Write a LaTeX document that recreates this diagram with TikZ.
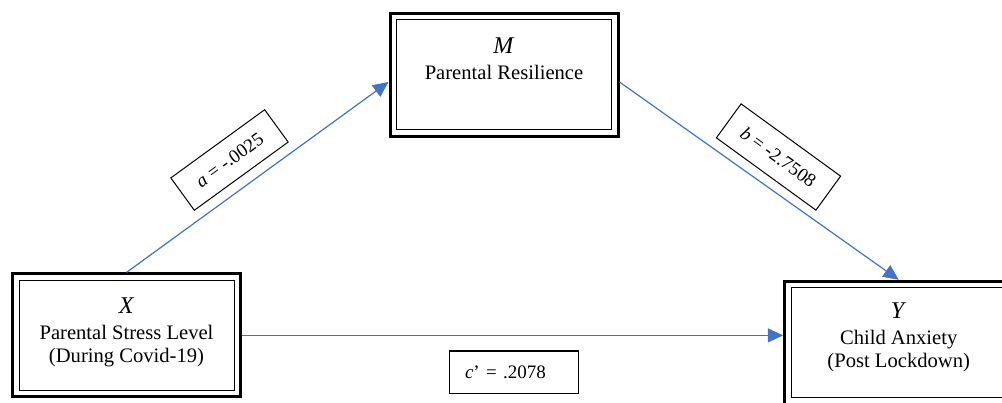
\documentclass[tikz,border=0pt]{standalone}
\usepackage{fontspec}
\setmainfont{Liberation Serif}
\usetikzlibrary{positioning,arrows.meta}
\definecolor{pathblue}{HTML}{4472C4}
\newcommand{\bigvar}[1]{{\fontsize{12}{11.2}\selectfont\textit{#1}}}
\tikzset{
  varbox/.style={draw, line width=1.5pt, minimum width=114pt, minimum height=61.5pt},
  vartext/.style={align=center, inner sep=0pt, font=\fontsize{10.3}{11.2}\selectfont},
  coef/.style={draw, line width=0.5pt, inner sep=2pt, font=\fontsize{9.5}{11}\selectfont},
  effect/.style={pathblue, line width=0.6pt, -{Triangle[length=7.7pt,width=7pt]}}
}
\begin{document}
\begin{tikzpicture}[x=0.5pt,y=0.5pt]
  \useasboundingbox (0,0) rectangle (1002,402);
  \node[varbox] (X) at (126.5,66.6) {};
  \node[varbox] (M) at (504,327) {};
  \node[varbox] (Y) at (898.7,59.2) {};
  \foreach \v in {X,M,Y}
    \draw[line width=0.5pt] ([shift={(4pt,-4pt)}]\v.north west) rectangle ([shift={(-4pt,4pt)}]\v.south east);
  \node[vartext, below=12.6pt of X.north] (Xt) {\bigvar{X}\\[1.8pt]Parental Stress Level\\(During Covid-19)};
  \node[vartext, below=12.6pt of M.north] (Mt) {\bigvar{M}\\[1.8pt]Parental Resilience};
  \node[vartext, below=11.4pt of Y.north] (Yt) {\bigvar{Y}\\[1.8pt]Child Anxiety\\(Post Lockdown)};
  \draw[effect] (X.north) -- ([yshift=-3.5pt]M.west);
  \draw[effect] ([yshift=-3.5pt]M.east) -- (Y.north);
  \draw[effect] (X.east) -- (X.east -| Y.west);
  \node[coef, rotate=36, minimum width=58pt, minimum height=20pt] (a) at (229.5,242) {\textit{a} = -.0025};
  \node[coef, rotate=-36, minimum width=61.5pt, minimum height=21pt] (b) at (778.5,245) {\textit{b} = -2.7508};
  \node[coef, inner xsep=8pt, text width=48.5pt, align=left, minimum height=21pt] (c) at (513.5,30) {\textit{c}’ = .2078};
\end{tikzpicture}
\end{document}
